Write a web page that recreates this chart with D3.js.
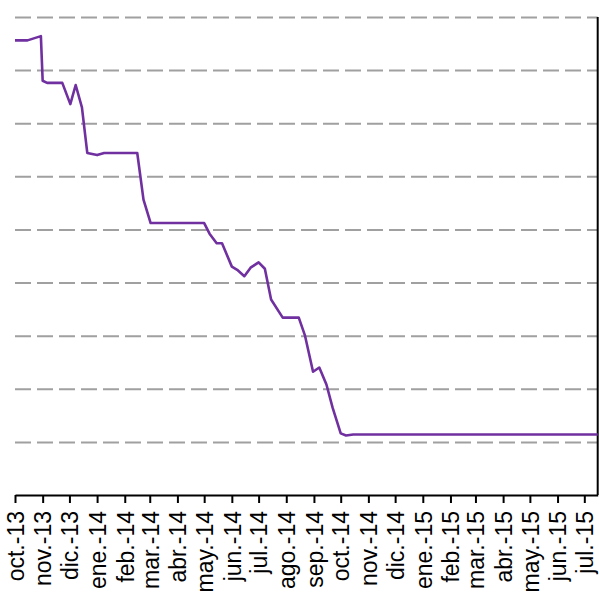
<html>
<head>
<script src="https://d3js.org/d3.v7.min.js"></script>
<style>
  body { margin: 0; background: #fff; }
  text { font-family: "Liberation Sans", Arial, sans-serif; }
</style>
</head>
<body>
<script>
  const width = 599;
  const height = 601;

  // data: dates and values
  const dates = ["2013-10-01","2013-10-15","2013-10-30","2013-11-01","2013-11-06","2013-11-23",
    "2013-12-02","2013-12-08","2013-12-15","2013-12-21","2014-01-01","2014-01-09","2014-02-15",
    "2014-02-22","2014-03-02","2014-05-01","2014-05-07","2014-05-15","2014-05-21","2014-06-01",
    "2014-06-07","2014-06-15","2014-06-22","2014-07-01","2014-07-08","2014-07-15","2014-07-28",
    "2014-08-15","2014-08-22","2014-08-31","2014-09-07","2014-09-15","2014-09-22","2014-10-01",
    "2014-10-07","2014-10-15","2015-07-16"];
  const values = [4.89, 4.89, 4.91, 4.70, 4.69, 4.69,
    4.59, 4.68, 4.575, 4.36, 4.35, 4.36, 4.36,
    4.14, 4.03, 4.03, 3.98, 3.935, 3.935, 3.825,
    3.81, 3.78, 3.82, 3.845, 3.815, 3.67, 3.585,
    3.585, 3.50, 3.33, 3.35, 3.27, 3.16, 3.04,
    3.03, 3.035, 3.035];

  // tick labels (one per month)
  const tickLabels = ["oct.-13","nov.-13","dic.-13","ene.-14","feb.-14","mar.-14","abr.-14",
    "may.-14","jun.-14","jul.-14","ago.-14","sep.-14","oct.-14","nov.-14","dic.-14","ene.-15",
    "feb.-15","mar.-15","abr.-15","may.-15","jun.-15","jul.-15"];
  const gridValues = [3.0, 3.25, 3.5, 3.75, 4.0, 4.25, 4.5, 4.75, 5.0];

  const parse = d3.timeParse("%Y-%m-%d");
  const data = dates.map((d, i) => ({ date: parse(d), value: values[i] }));
  const tickDates = tickLabels.map((t, i) => d3.timeMonth.offset(parse("2013-10-01"), i));

  const x = d3.scaleTime()
    .domain([parse("2013-10-01"), parse("2015-07-16")])
    .range([15, 597.7]);
  const y = d3.scaleLinear()
    .domain([2.75, 5.0])
    .range([495, 17]);

  const svg = d3.select("body")
    .append("svg")
    .attr("width", width)
    .attr("height", height);

  // gridlines
  const grid = svg.append("g")
    .attr("transform", "translate(15,0)")
    .call(d3.axisLeft(y).tickValues(gridValues).tickSize(-(597.7 - 15)).tickFormat(""));
  grid.select(".domain").remove();
  grid.selectAll("line")
    .attr("stroke", "#a0a0a0")
    .attr("stroke-width", 2)
    .attr("stroke-dasharray", "16,6");

  // right border line
  svg.append("line")
    .attr("x1", x.range()[1]).attr("x2", x.range()[1])
    .attr("y1", y(5.0)).attr("y2", y(2.75))
    .attr("stroke", "#000")
    .attr("stroke-width", 2);

  // x axis
  const xAxis = svg.append("g")
    .attr("transform", `translate(0,${y(2.75)})`)
    .call(d3.axisBottom(x)
      .tickValues(tickDates)
      .tickSize(8)
      .tickSizeOuter(0)
      .tickFormat((d, i) => tickLabels[i]));
  xAxis.select(".domain").attr("stroke", "#000").attr("stroke-width", 2);
  xAxis.selectAll(".tick line").attr("stroke", "#000").attr("stroke-width", 2);
  xAxis.selectAll("text")
    .attr("font-size", 23)
    .attr("fill", "#000")
    .attr("text-anchor", "end")
    .attr("transform", "rotate(-90)")
    .attr("x", -16)
    .attr("y", 0)
    .attr("dy", "0.36em");

  // line
  const line = d3.line()
    .x(d => x(d.date))
    .y(d => y(d.value));

  svg.append("path")
    .datum(data)
    .attr("d", line)
    .attr("fill", "none")
    .attr("stroke", "#7030a0")
    .attr("stroke-width", 2.6)
    .attr("stroke-linejoin", "round");
</script>
</body>
</html>
